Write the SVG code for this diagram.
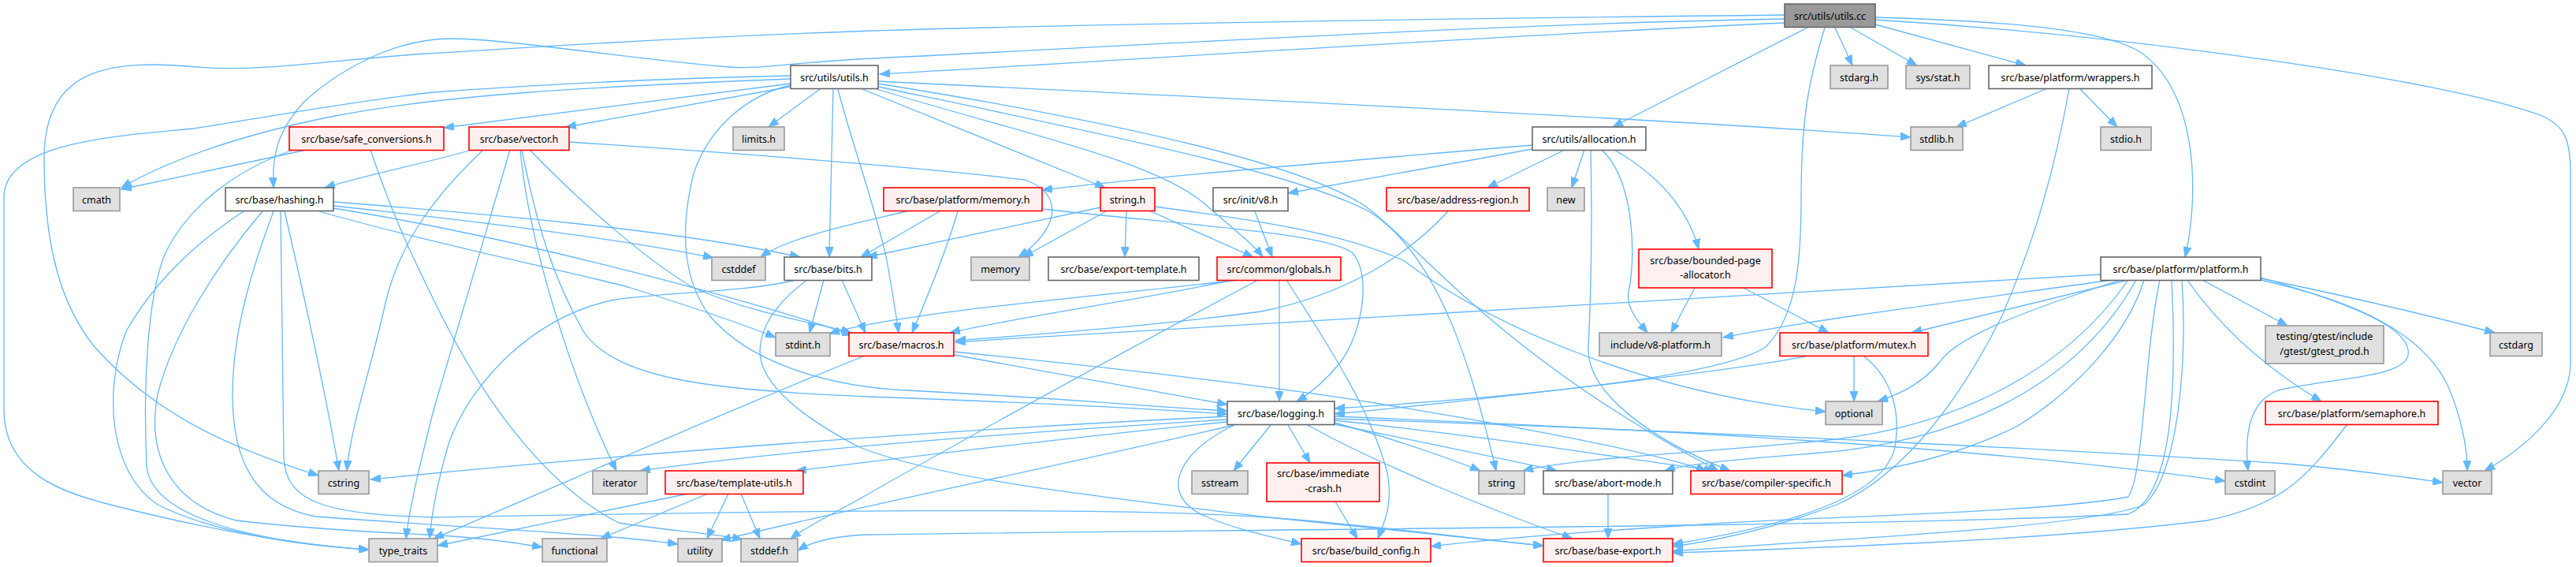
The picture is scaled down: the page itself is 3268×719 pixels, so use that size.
<svg xmlns="http://www.w3.org/2000/svg" width="3268" height="719" viewBox="0 0 3268 719">
<style>
.w{fill:#ffffff;stroke:#666666;stroke-width:1.6}
.g{fill:#e0e0e0;stroke:#999999;stroke-width:1.6}
.r{fill:#fff0f0;stroke:#ff0000;stroke-width:1.6}
.root{fill:#999999;stroke:#666666;stroke-width:1.6}
text{font-family:"Noto Sans","DejaVu Sans",sans-serif;font-size:12.5px;fill:#000000;text-anchor:middle}
#edges path{fill:none;stroke:#63b8ff;stroke-width:1.3;marker-end:url(#ah)}
</style>
<defs>
<marker id="ah" markerUnits="userSpaceOnUse" markerWidth="14" markerHeight="10" refX="13" refY="5" orient="auto">
<path d="M0,0 L13,5 L0,10 z" fill="#63b8ff" stroke="#63b8ff" stroke-width="1"/>
</marker>
</defs>
<rect width="3268" height="719" fill="#ffffff"/>
<g id="edges">
<path d="M2264,29 C1900,45 1400,78 1116,94"/>
<path d="M2264,19 C1800,24 1300,32 1080,40 C800,50 650,62 540,68 C420,76 330,92 250,85 C150,76 56,80 56,200 C56,320 80,390 120,440 C200,530 300,570 404,603"/>
<path d="M2264,24 C1900,30 1400,60 1090,75 C1000,80 960,88 926,85 C800,75 650,50 575,49 C500,48 430,90 390,125 C350,165 345,200 347,238"/>
<path d="M2328,35 L2350,83"/>
<path d="M2348,35 L2432,83"/>
<path d="M2379,31 L2570,83"/>
<path d="M2293,35 L2046,161"/>
<path d="M2315,35 C2295,100 2285,150 2285,250 C2285,330 2280,400 2240,440 C2180,480 1900,505 1693,518"/>
<path d="M2379,22 C2550,27 2660,37 2710,63 C2790,110 2790,250 2772,326"/>
<path d="M2379,25 C2700,45 3100,100 3225,147 C3255,160 3261,180 3261,220 L3261,460 C3261,520 3200,570 3152,597"/>
<path d="M1003,106 L563,162"/>
<path d="M1003,110 L718,161"/>
<path d="M1040,113 L975,161"/>
<path d="M1114,103 C1500,122 2100,150 2424,174"/>
<path d="M1003,100 C750,110 560,120 420,148 C300,172 210,205 154,238"/>
<path d="M1003,96 C800,100 620,112 550,117 C450,128 330,150 246,163 C150,172 5,180 5,250 L5,520 C5,600 80,625 140,640 C250,668 360,690 468,697"/>
<path d="M1057,113 L1052,326"/>
<path d="M1094,113 L1402,238"/>
<path d="M1112,113 C1300,170 1470,205 1530,260 C1570,295 1590,310 1602,326"/>
<path d="M1063,113 C1080,180 1110,260 1125,330 C1132,370 1137,400 1140,422"/>
<path d="M1003,108 C950,120 900,160 880,220 C860,300 870,360 900,400 C950,460 1050,490 1150,495 C1350,505 1450,515 1557,521"/>
<path d="M1114,110 C1400,170 1650,220 1740,270 C1830,330 1870,480 1898,597"/>
<path d="M1114,106 C1450,160 1650,210 1730,260 C1800,310 1900,450 2180,597"/>
<path d="M2595,113 L2482,161"/>
<path d="M2639,113 L2686,161"/>
<path d="M2625,113 C2600,250 2570,330 2540,400 C2490,500 2420,600 2330,640 C2250,670 2180,685 2122,693"/>
<path d="M389,190 L154,240"/>
<path d="M372,190 C300,215 240,260 210,320 C185,380 182,500 186,590 C190,650 300,685 468,697"/>
<path d="M470,190 C500,280 530,340 560,400 C620,520 700,620 785,663 C840,672 900,676 942,684"/>
<path d="M598,190 C550,205 470,220 412,238"/>
<path d="M613,190 C560,240 510,300 490,380 C470,470 445,540 440,597"/>
<path d="M647,190 C620,280 580,420 550,520 C535,580 520,640 515,683"/>
<path d="M660,190 C670,300 720,470 782,597"/>
<path d="M662,190 C680,280 700,350 740,420 C780,480 900,495 1100,503 C1300,510 1450,518 1557,525"/>
<path d="M672,190 C740,260 820,330 880,365 C960,400 1040,410 1080,422"/>
<path d="M722,180 C900,192 1150,210 1300,228 C1350,245 1345,290 1292,326"/>
<path d="M1944,184 C1700,205 1450,225 1322,241"/>
<path d="M1944,189 L1634,245"/>
<path d="M1985,190 L1887,238"/>
<path d="M2010,190 L1994,238"/>
<path d="M2018,190 C2020,280 2018,380 2015,440 C2012,500 2100,560 2195,597"/>
<path d="M2032,190 C2075,230 2075,330 2066,370 C2062,390 2080,410 2090,422"/>
<path d="M2048,190 C2100,220 2140,260 2155,316"/>
<path d="M423,256 C600,270 850,290 1015,326"/>
<path d="M423,261 C600,280 800,305 905,327"/>
<path d="M423,264 C650,300 950,380 1082,425"/>
<path d="M405,268 C550,310 750,350 800,365 C880,390 940,410 984,428"/>
<path d="M361,268 C380,350 410,480 430,597"/>
<path d="M309,268 C260,300 200,350 160,420 C130,500 140,600 200,640 C280,680 400,693 468,697"/>
<path d="M333,268 C280,330 220,420 200,500 C185,580 220,640 300,660 C400,672 500,676 560,679 C620,683 660,689 688,694"/>
<path d="M347,268 C320,340 295,420 295,500 C295,580 320,640 400,655 C600,670 760,676 860,690"/>
<path d="M356,268 C358,360 358,500 360,580 C362,640 420,652 550,656 C900,650 1400,640 1620,657 C1780,670 1880,685 1958,692"/>
<path d="M1150,268 C1100,280 1000,300 965,326"/>
<path d="M1192,268 L1092,326"/>
<path d="M1215,268 C1200,320 1175,380 1157,422"/>
<path d="M1322,265 C1500,285 1680,295 1715,320 C1740,345 1730,420 1700,460 C1680,485 1660,500 1645,509"/>
<path d="M1396,263 L1100,326"/>
<path d="M1403,268 L1298,326"/>
<path d="M1429,268 L1427,326"/>
<path d="M1460,268 L1590,326"/>
<path d="M1465,262 C1600,280 1700,295 1780,330 C1900,420 2100,500 2316,522"/>
<path d="M1592,268 L1614,326"/>
<path d="M1837,268 C1780,330 1700,375 1600,395 C1450,415 1300,425 1212,432"/>
<path d="M1045,355 L1027,422"/>
<path d="M1068,355 L1098,422"/>
<path d="M1010,355 C950,370 850,370 780,380 C680,400 600,480 570,560 C555,610 548,650 545,683"/>
<path d="M1024,355 C990,380 965,410 964,445 C964,480 1000,520 1090,567 C1200,610 1400,630 1600,655 C1750,670 1880,685 1958,692"/>
<path d="M1564,355 C1450,380 1300,400 1205,422"/>
<path d="M1571,355 C1400,375 1150,395 1052,423"/>
<path d="M1623,355 L1623,509"/>
<path d="M1632,355 C1680,430 1740,520 1760,600 C1768,640 1755,665 1748,683"/>
<path d="M1596,355 C1400,460 1200,570 1090,633 C1050,655 1020,670 1003,683"/>
<path d="M2150,365 L2120,422"/>
<path d="M2212,365 L2320,422"/>
<path d="M2665,348 C2400,365 1800,395 1212,434"/>
<path d="M2680,355 C2500,380 2300,405 2186,428"/>
<path d="M2700,355 L2425,422"/>
<path d="M2690,355 C2550,400 2480,430 2460,460 C2440,485 2410,500 2382,509"/>
<path d="M2700,355 C2620,470 2480,545 2300,560 C2150,575 2000,580 1932,597"/>
<path d="M2710,355 C2640,480 2500,560 2300,575 C2200,583 2140,588 2112,597"/>
<path d="M2720,355 C2700,420 2640,490 2560,540 C2480,580 2400,595 2337,603"/>
<path d="M2868,352 C3000,390 3060,420 3055,450 C3050,480 2950,480 2890,495 C2850,510 2848,560 2852,597"/>
<path d="M2868,355 C2980,380 3080,420 3110,500 C3125,540 3130,570 3130,597"/>
<path d="M2794,355 L2902,413"/>
<path d="M2868,353 C3000,380 3100,405 3165,422"/>
<path d="M2775,355 C2820,420 2880,470 2945,509"/>
<path d="M2768,355 C2775,450 2765,600 2720,640 C2650,670 2300,685 2122,699"/>
<path d="M2740,355 C2720,450 2720,600 2700,630 C2600,650 2300,655 2160,665 C2000,675 1880,685 1815,693"/>
<path d="M2755,355 C2762,500 2755,630 2700,652 C2400,668 1500,672 1100,678 C1050,680 1025,690 1012,698"/>
<path d="M1095,452 C900,530 700,620 550,683"/>
<path d="M1210,450 L1557,513"/>
<path d="M1210,446 C1450,470 1650,495 1750,512 C1950,545 2100,575 2165,597"/>
<path d="M2290,452 C2200,470 1900,505 1693,525"/>
<path d="M2352,452 L2352,509"/>
<path d="M2365,452 C2400,480 2410,520 2405,560 C2400,620 2300,662 2122,690"/>
<path d="M1557,528 C1200,545 800,575 470,608"/>
<path d="M1557,532 C1300,548 1000,570 812,597"/>
<path d="M1557,535 C1350,555 1150,580 1010,597"/>
<path d="M1612,539 L1565,597"/>
<path d="M1634,539 L1662,587"/>
<path d="M1693,536 C1780,560 1830,578 1878,597"/>
<path d="M1693,538 C1800,560 1900,580 1975,597"/>
<path d="M1693,533 C1900,555 2050,580 2175,597"/>
<path d="M1693,528 C2100,545 2500,565 2823,610"/>
<path d="M1693,531 C2200,548 2700,575 2900,588 C3000,597 3050,605 3099,612"/>
<path d="M1566,539 C1300,600 1100,640 914,685"/>
<path d="M1659,539 C1750,590 1900,650 1995,683"/>
<path d="M1566,539 C1490,575 1470,630 1530,655 C1570,672 1610,680 1651,690"/>
<path d="M2977,539 C2930,600 2900,640 2800,660 C2600,685 2300,695 2122,701"/>
<path d="M873,626 L555,692"/>
<path d="M898,626 L762,683"/>
<path d="M924,626 L897,683"/>
<path d="M940,626 L964,683"/>
<path d="M1694,636 L1722,683"/>
<path d="M2040,626 L2040,683"/>
</g>
<g id="nodes">
<g id="n-utils-cc"><rect class="root" x="2264" y="5" width="115" height="29.5"/><text x="2321.5" y="24.5">src/utils/utils.cc</text></g>
<g id="n-utils-h"><rect class="w" x="1003" y="83" width="111" height="29.5"/><text x="1058.5" y="102.5">src/utils/utils.h</text></g>
<g id="n-stdarg"><rect class="g" x="2322" y="83" width="73" height="29.5"/><text x="2358.5" y="102.5">stdarg.h</text></g>
<g id="n-sysstat"><rect class="g" x="2418" y="83" width="81" height="29.5"/><text x="2458.5" y="102.5">sys/stat.h</text></g>
<g id="n-wrappers"><rect class="w" x="2523" y="83" width="207" height="29.5"/><text x="2626.5" y="102.5">src/base/platform/wrappers.h</text></g>
<g id="n-safe-conv"><rect class="r" x="367" y="161" width="196" height="29.5"/><text x="465" y="180.5">src/base/safe_conversions.h</text></g>
<g id="n-vector-h"><rect class="r" x="595" y="161" width="127" height="29.5"/><text x="658.5" y="180.5">src/base/vector.h</text></g>
<g id="n-limits"><rect class="g" x="930" y="161" width="65" height="29.5"/><text x="962.5" y="180.5">limits.h</text></g>
<g id="n-allocation"><rect class="w" x="1944" y="161" width="144" height="29.5"/><text x="2016" y="180.5">src/utils/allocation.h</text></g>
<g id="n-stdlib"><rect class="g" x="2424" y="161" width="66" height="29.5"/><text x="2457" y="180.5">stdlib.h</text></g>
<g id="n-stdio"><rect class="g" x="2665" y="161" width="64" height="29.5"/><text x="2697" y="180.5">stdio.h</text></g>
<g id="n-cmath"><rect class="g" x="93" y="238" width="59" height="29.5"/><text x="122.5" y="257.5">cmath</text></g>
<g id="n-hashing"><rect class="w" x="286" y="238" width="137" height="29.5"/><text x="354.5" y="257.5">src/base/hashing.h</text></g>
<g id="n-pmemory"><rect class="r" x="1121" y="238" width="201" height="29.5"/><text x="1221.5" y="257.5">src/base/platform/memory.h</text></g>
<g id="n-string-h"><rect class="r" x="1396" y="238" width="69" height="29.5"/><text x="1430.5" y="257.5">string.h</text></g>
<g id="n-v8-h"><rect class="w" x="1539" y="238" width="95" height="29.5"/><text x="1586.5" y="257.5">src/init/v8.h</text></g>
<g id="n-addr-region"><rect class="r" x="1759" y="238" width="181" height="29.5"/><text x="1849.5" y="257.5">src/base/address-region.h</text></g>
<g id="n-new"><rect class="g" x="1963" y="238" width="47" height="29.5"/><text x="1986.5" y="257.5">new</text></g>
<g id="n-cstddef"><rect class="g" x="903" y="326" width="68" height="29.5"/><text x="937" y="345.5">cstddef</text></g>
<g id="n-bits"><rect class="w" x="995" y="326" width="111" height="29.5"/><text x="1050.5" y="345.5">src/base/bits.h</text></g>
<g id="n-memory"><rect class="g" x="1232" y="326" width="74" height="29.5"/><text x="1269" y="345.5">memory</text></g>
<g id="n-export-tmpl"><rect class="w" x="1330" y="326" width="191" height="29.5"/><text x="1425.5" y="345.5">src/base/export-template.h</text></g>
<g id="n-globals"><rect class="r" x="1544" y="326" width="157" height="29.5"/><text x="1622.5" y="345.5">src/common/globals.h</text></g>
<g id="n-bounded"><rect class="r" x="2079" y="316" width="169" height="49"/><text x="2163.5" y="334.5">src/base/bounded-page</text><text x="2163.5" y="353">-allocator.h</text></g>
<g id="n-platform"><rect class="w" x="2665" y="326" width="203" height="29.5"/><text x="2766.5" y="345.5">src/base/platform/platform.h</text></g>
<g id="n-stdint"><rect class="g" x="984" y="422" width="69" height="29.5"/><text x="1018.5" y="441.5">stdint.h</text></g>
<g id="n-macros"><rect class="r" x="1077" y="422" width="133" height="29.5"/><text x="1143.5" y="441.5">src/base/macros.h</text></g>
<g id="n-v8platform"><rect class="g" x="2029" y="422" width="155" height="29.5"/><text x="2106.5" y="441.5">include/v8-platform.h</text></g>
<g id="n-mutex"><rect class="r" x="2258" y="422" width="188" height="29.5"/><text x="2352" y="441.5">src/base/platform/mutex.h</text></g>
<g id="n-gtest"><rect class="g" x="2874" y="413" width="150" height="48"/><text x="2949" y="431">testing/gtest/include</text><text x="2949" y="450">/gtest/gtest_prod.h</text></g>
<g id="n-cstdarg"><rect class="g" x="3159" y="422" width="66" height="29.5"/><text x="3192" y="441.5">cstdarg</text></g>
<g id="n-logging"><rect class="w" x="1557" y="509" width="136" height="29.5"/><text x="1625" y="528.5">src/base/logging.h</text></g>
<g id="n-optional"><rect class="g" x="2316" y="509" width="72" height="29.5"/><text x="2352" y="528.5">optional</text></g>
<g id="n-semaphore"><rect class="r" x="2874" y="509" width="219" height="29.5"/><text x="2983.5" y="528.5">src/base/platform/semaphore.h</text></g>
<g id="n-cstring"><rect class="g" x="404" y="597" width="64" height="29.5"/><text x="436" y="616.5">cstring</text></g>
<g id="n-iterator"><rect class="g" x="752" y="597" width="69" height="29.5"/><text x="786.5" y="616.5">iterator</text></g>
<g id="n-template-utils"><rect class="r" x="844" y="597" width="175" height="29.5"/><text x="931.5" y="616.5">src/base/template-utils.h</text></g>
<g id="n-sstream"><rect class="g" x="1512" y="597" width="71" height="29.5"/><text x="1547.5" y="616.5">sstream</text></g>
<g id="n-immediate"><rect class="r" x="1607" y="587" width="143" height="49"/><text x="1678.5" y="605">src/base/immediate</text><text x="1678.5" y="624">-crash.h</text></g>
<g id="n-string"><rect class="g" x="1876" y="597" width="58" height="29.5"/><text x="1905" y="616.5">string</text></g>
<g id="n-abort-mode"><rect class="w" x="1958" y="597" width="164" height="29.5"/><text x="2040" y="616.5">src/base/abort-mode.h</text></g>
<g id="n-compiler"><rect class="r" x="2145" y="597" width="192" height="29.5"/><text x="2241" y="616.5">src/base/compiler-specific.h</text></g>
<g id="n-cstdint"><rect class="g" x="2823" y="597" width="63" height="29.5"/><text x="2854.5" y="616.5">cstdint</text></g>
<g id="n-vector"><rect class="g" x="3099" y="597" width="62" height="29.5"/><text x="3130" y="616.5">vector</text></g>
<g id="n-type-traits"><rect class="g" x="468" y="683" width="87" height="29.5"/><text x="511.5" y="702.5">type_traits</text></g>
<g id="n-functional"><rect class="g" x="688" y="683" width="82" height="29.5"/><text x="729" y="702.5">functional</text></g>
<g id="n-utility"><rect class="g" x="860" y="683" width="56" height="29.5"/><text x="888" y="702.5">utility</text></g>
<g id="n-stddef"><rect class="g" x="940" y="683" width="72" height="29.5"/><text x="976" y="702.5">stddef.h</text></g>
<g id="n-build-config"><rect class="r" x="1651" y="683" width="164" height="29.5"/><text x="1733" y="702.5">src/base/build_config.h</text></g>
<g id="n-base-export"><rect class="r" x="1958" y="683" width="164" height="29.5"/><text x="2040" y="702.5">src/base/base-export.h</text></g>
</g>
</svg>
